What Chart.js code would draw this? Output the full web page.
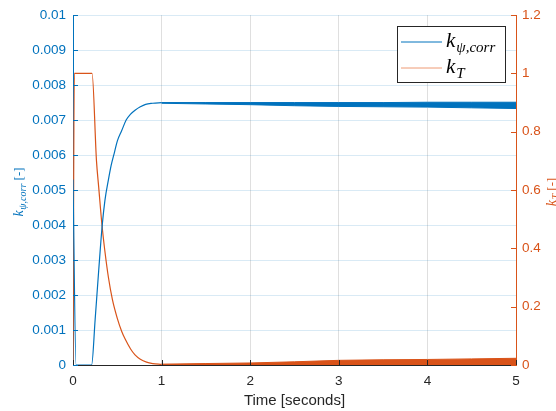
<!DOCTYPE html>
<html>
<head>
<meta charset="utf-8">
<script src="https://cdn.jsdelivr.net/npm/chart.js@4"></script>
<style>
  html, body { margin: 0; padding: 0; background: #fff; }
  canvas { display: block; }
</style>
</head>
<body>
<canvas id="grafico" width="556" height="411"></canvas>
<script>
// k_psi,corr (left axis) - transient part
const psiT   = [0, 0.035, 0.21, 0.25, 0.29, 0.33, 0.36, 0.4, 0.43, 0.47, 0.5, 0.55, 0.6, 0.65, 0.7, 0.76, 0.82, 0.9, 1.0];
const psiVal = [0.0053, 0, 0, 0.0013, 0.0027, 0.0040, 0.0047, 0.0053, 0.0057, 0.0061, 0.0064, 0.0067, 0.0070, 0.00717, 0.00728, 0.00738, 0.00745, 0.00748, 0.0075];

// k_T (right axis) - transient part
const kT_T   = [0, 0.015, 0.215, 0.265, 0.29, 0.327, 0.36, 0.4, 0.445, 0.5, 0.55, 0.59, 0.65, 0.7, 0.76, 0.83, 0.9, 1.0];
const kT_Val = [0, 1, 1, 0.70, 0.61, 0.48, 0.39, 0.30, 0.224, 0.16, 0.115, 0.088, 0.055, 0.035, 0.02, 0.01, 0.005, 0.002];

// noisy steady-state part, kept as upper / lower envelope
const bandT  = [1, 1.5, 2, 2.5, 3, 3.5, 4, 4.5, 5];
const psiHi  = [0.00750, 0.00750, 0.00750, 0.00750, 0.00750, 0.00750, 0.00751, 0.00751, 0.00751];
const psiLo  = [0.00748, 0.00746, 0.00744, 0.00741, 0.00739, 0.00738, 0.00737, 0.00735, 0.00733];
const kTHi   = [0.003, 0.005, 0.007, 0.011, 0.016, 0.018, 0.019, 0.021, 0.023];
const kTLo   = [0.001, 0, 0, 0, 0, 0, 0, 0, 0];

const xTicks = [0, 1, 2, 3, 4, 5];

const azul = '#0072BD';
const naranja = '#D95319';
const gris = '#262626';

const pts = (ts, vs) => ts.map((t, i) => ({ x: t, y: vs[i] }));

function linea(ctx, x1, y1, x2, y2) {
    ctx.beginPath();
    ctx.moveTo(x1, y1);
    ctx.lineTo(x2, y2);
    ctx.stroke();
}

// draws  base_sub + rest  starting at x (baseline y)
function textoSub(ctx, x, y, base, sub, rest, size, color) {
    ctx.fillStyle = color;
    ctx.textBaseline = 'alphabetic';
    ctx.textAlign = 'left';
    ctx.font = 'italic ' + size + 'px "Liberation Serif"';
    ctx.fillText(base, x, y);
    x += ctx.measureText(base).width + size * 0.05;
    ctx.font = 'italic ' + Math.round(size * 0.7) + 'px "Liberation Serif"';
    ctx.fillText(sub, x, y + size * 0.22);
    x += ctx.measureText(sub).width;
    if (rest) {
        ctx.font = Math.round(size * 0.9) + 'px "Liberation Serif"';
        ctx.fillText(rest, x, y);
        x += ctx.measureText(rest).width;
    }
    return x;
}

function anchoSub(ctx, base, sub, rest, size) {
    ctx.font = 'italic ' + size + 'px "Liberation Serif"';
    let w = ctx.measureText(base).width + size * 0.05;
    ctx.font = 'italic ' + Math.round(size * 0.7) + 'px "Liberation Serif"';
    w += ctx.measureText(sub).width;
    ctx.font = Math.round(size * 0.9) + 'px "Liberation Serif"';
    w += ctx.measureText(rest).width;
    return w;
}

const decoracion = {
    id: 'decoracion',
    afterDraw(chart) {
        const ctx = chart.ctx;
        const a = chart.chartArea;
        const sx = chart.scales.x, sy = chart.scales.y, sy1 = chart.scales.y1;
        ctx.save();
        ctx.lineWidth = 1;

        // inward tick marks
        ctx.strokeStyle = azul;
        sy.ticks.forEach(t => {
            const y = Math.round(sy.getPixelForValue(t.value)) + 0.5;
            linea(ctx, a.left, y, a.left + 5, y);
        });
        ctx.strokeStyle = naranja;
        sy1.ticks.forEach(t => {
            const y = Math.round(sy1.getPixelForValue(t.value)) + 0.5;
            linea(ctx, a.right - 5, y, a.right, y);
        });
        ctx.strokeStyle = gris;
        sx.ticks.forEach(t => {
            const x = Math.round(sx.getPixelForValue(t.value)) + 0.5;
            linea(ctx, x, a.bottom, x, a.bottom - 5);
        });

        // y axis titles
        ctx.save();
        ctx.translate(19, 192);
        ctx.rotate(-Math.PI / 2);
        let w = anchoSub(ctx, 'k', 'ψ,corr', ' [-]', 14);
        textoSub(ctx, -w / 2, 4, 'k', 'ψ,corr', ' [-]', 14, azul);
        ctx.restore();

        ctx.save();
        ctx.translate(552, 192);
        ctx.rotate(-Math.PI / 2);
        w = anchoSub(ctx, 'k', 'T', ' [-]', 14);
        textoSub(ctx, -w / 2, 4, 'k', 'T', ' [-]', 14, naranja);
        ctx.restore();

        // legend
        const lx = 397.5, ly = 26.5, lw = 108, lh = 56;
        ctx.fillStyle = '#fff';
        ctx.fillRect(lx, ly, lw, lh);
        ctx.strokeStyle = gris;
        ctx.lineWidth = 1;
        ctx.strokeRect(lx, ly, lw, lh);
        ctx.strokeStyle = azul;
        linea(ctx, 401, 42, 442, 42);
        ctx.strokeStyle = '#EE9A75';
        linea(ctx, 401, 68, 442, 68);
        textoSub(ctx, 446, 47, 'k', 'ψ,corr', '', 21, '#000');
        textoSub(ctx, 446, 73, 'k', 'T', '', 21, '#000');

        ctx.restore();
    }
};

const ctx = document.getElementById('grafico').getContext('2d');
const grafico = new Chart(ctx, {
    type: 'line',
    data: {
        datasets: [
            {
                label: 'k_psi,corr',
                data: pts(psiT, psiVal),
                yAxisID: 'y',
                borderColor: azul,
                borderWidth: 1.2,
                pointRadius: 0,
                cubicInterpolationMode: 'monotone',
                fill: false
            },
            {
                label: 'k_psi,corr hi',
                data: pts(bandT, psiHi),
                yAxisID: 'y',
                borderColor: azul,
                borderWidth: 1,
                pointRadius: 0,
                fill: false
            },
            {
                label: 'k_psi,corr lo',
                data: pts(bandT, psiLo),
                yAxisID: 'y',
                borderColor: azul,
                backgroundColor: azul,
                borderWidth: 1,
                pointRadius: 0,
                fill: '-1'
            },
            {
                label: 'k_T',
                data: pts(kT_T, kT_Val),
                yAxisID: 'y1',
                borderColor: naranja,
                borderWidth: 1.2,
                pointRadius: 0,
                cubicInterpolationMode: 'monotone',
                fill: false
            },
            {
                label: 'k_T hi',
                data: pts(bandT, kTHi),
                yAxisID: 'y1',
                borderColor: naranja,
                borderWidth: 1,
                pointRadius: 0,
                fill: false
            },
            {
                label: 'k_T lo',
                data: pts(bandT, kTLo),
                yAxisID: 'y1',
                borderColor: naranja,
                backgroundColor: naranja,
                borderWidth: 1,
                pointRadius: 0,
                fill: '-1'
            }
        ]
    },
    options: {
        responsive: false,
        animation: false,
        layout: { padding: { top: 15, left: 0, right: 0, bottom: 0 } },
        plugins: {
            legend: { display: false },
            tooltip: { enabled: false }
        },
        scales: {
            x: {
                type: 'linear',
                min: 0,
                max: 5,
                afterBuildTicks: s => { s.ticks = xTicks.map(v => ({ value: v })); },
                afterFit: s => { s.height = 46; },
                grid: { color: 'rgba(38,38,38,0.15)', drawTicks: false },
                border: { color: gris, width: 1 },
                ticks: {
                    color: gris,
                    padding: 8,
                    maxRotation: 0,
                    font: { family: '"Liberation Sans"', size: 13.5 },
                    callback: v => String(v)
                },
                title: {
                    display: true,
                    text: 'Time [seconds]',
                    color: gris,
                    padding: { top: 0, bottom: 1 },
                    font: { family: '"Liberation Sans"', size: 15 }
                }
            },
            y: {
                position: 'left',
                min: 0,
                max: 0.01,
                afterFit: s => { s.width = 73; },
                grid: { color: 'rgba(0,114,189,0.15)', drawTicks: false },
                border: { color: azul, width: 1 },
                ticks: {
                    stepSize: 0.001,
                    color: azul,
                    padding: 7,
                    font: { family: '"Liberation Sans"', size: 13.5 },
                    callback: v => Number(v.toFixed(3)).toString()
                }
            },
            y1: {
                position: 'right',
                min: 0,
                max: 1.2,
                afterFit: s => { s.width = 40; },
                grid: { display: false, drawTicks: false },
                border: { color: naranja, width: 1 },
                ticks: {
                    stepSize: 0.2,
                    color: naranja,
                    padding: 6,
                    font: { family: '"Liberation Sans"', size: 13.5 },
                    callback: v => Number(v.toFixed(1)).toString()
                }
            }
        }
    },
    plugins: [decoracion]
});
</script>
</body>
</html>
